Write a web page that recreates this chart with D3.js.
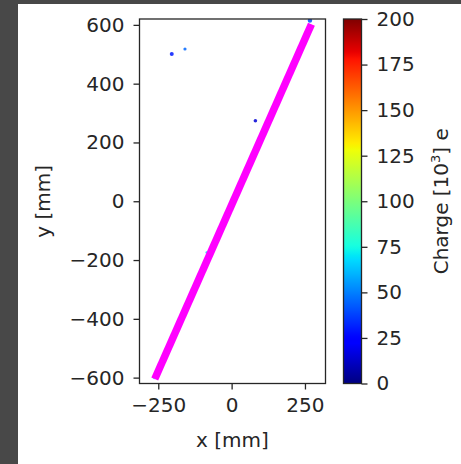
<!DOCTYPE html>
<html>
<head>
<meta charset="utf-8">
<script src="https://cdnjs.cloudflare.com/ajax/libs/d3/7.8.5/d3.min.js"></script>
<style>
  html, body { margin: 0; padding: 0; background: #484848; }
  svg { display: block; }
  text { font-family: "DejaVu Sans", sans-serif; fill: #262626; }
</style>
</head>
<body>
<div id="chart"></div>
<script>
// track fit (magenta) endpoints, mm
var trackX = [-262, 272];
var trackY = [-605, 602];

// hits lying on the track (shown as the thin cyan edge)
var hitTrackX = [-266, 268];
var hitTrackY = [-605, 602];
var hitTrackQ = 70;

// isolated hits: x, y in mm, charge in 10^3 e
var hitX = [-204, -159, 81, 267, -85];
var hitY = [501, 518, 274, 615, -174];
var hitQ = [30, 45, 15, 40, 70];
var hitR = [2, 1.6, 1.8, 2.2, 1.2];

var xTicks = [-250, 0, 250];
var yTicks = [-600, -400, -200, 0, 200, 400, 600];
var cTicks = [0, 25, 50, 75, 100, 125, 150, 175, 200];

var W = 461, H = 464;
var plot = {left: 139.5, right: 325.5, top: 19, bottom: 383.5};
var cbar = {left: 343.5, right: 361.5};
var fs = "20px";

var svg = d3.select("#chart").append("svg")
  .attr("width", W)
  .attr("height", H);

// white figure area
svg.append("rect")
  .attr("x", 18).attr("y", 4)
  .attr("width", W - 18).attr("height", H - 4)
  .attr("fill", "#ffffff");

var x = d3.scaleLinear().domain([-314, 320]).range([plot.left, plot.right]);
var y = d3.scaleLinear().domain([-620, 620]).range([plot.bottom, plot.top]);
var c = d3.scaleLinear().domain([0, 200]).range([plot.bottom, plot.top]);

// jet colormap
function jet(t) {
  t = Math.max(0, Math.min(1, t));
  function seg(pts) {
    for (var i = 1; i < pts.length; i++) {
      if (t <= pts[i][0]) {
        var a = pts[i - 1], b = pts[i];
        return a[1] + (b[1] - a[1]) * (t - a[0]) / (b[0] - a[0]);
      }
    }
    return pts[pts.length - 1][1];
  }
  var r = seg([[0, 0], [0.35, 0], [0.66, 1], [0.89, 1], [1, 0.5]]);
  var g = seg([[0, 0], [0.125, 0], [0.375, 1], [0.64, 1], [0.91, 0], [1, 0]]);
  var b = seg([[0, 0.5], [0.11, 1], [0.34, 1], [0.65, 0], [1, 0]]);
  return d3.rgb(r * 255, g * 255, b * 255).toString();
}
function qColor(q) { return jet(q / 200); }

svg.append("clipPath").attr("id", "clip")
  .append("rect")
  .attr("x", plot.left).attr("y", plot.top)
  .attr("width", plot.right - plot.left).attr("height", plot.bottom - plot.top);

var g = svg.append("g").attr("clip-path", "url(#clip)");

var line = d3.line()
  .x(function(d) { return x(d[0]); })
  .y(function(d) { return y(d[1]); });

// hits along the track
g.append("path")
  .datum(d3.zip(hitTrackX, hitTrackY))
  .attr("d", line)
  .attr("fill", "none")
  .attr("stroke", qColor(hitTrackQ))
  .attr("stroke-opacity", 0.6)
  .attr("stroke-width", 2);

// isolated hits
g.selectAll("circle.hit")
  .data(d3.range(hitX.length))
  .enter().append("circle")
  .attr("class", "hit")
  .attr("cx", function(i) { return x(hitX[i]); })
  .attr("cy", function(i) { return y(hitY[i]); })
  .attr("r", function(i) { return hitR[i]; })
  .attr("fill", function(i) { return qColor(hitQ[i]); })
  .attr("fill-opacity", 0.85);

// fitted track
g.append("path")
  .datum(d3.zip(trackX, trackY))
  .attr("d", line)
  .attr("fill", "none")
  .attr("stroke", "#ff00ff")
  .attr("stroke-width", 7.5);

// frame
svg.append("rect")
  .attr("x", plot.left).attr("y", plot.top)
  .attr("width", plot.right - plot.left).attr("height", plot.bottom - plot.top)
  .attr("fill", "none")
  .attr("stroke", "#262626")
  .attr("stroke-width", 1.3);

function minus(d) { return d3.format("d")(d).replace("-", "\u2212"); }

// axes
var xAxis = svg.append("g")
  .attr("transform", "translate(0," + plot.bottom + ")")
  .call(d3.axisBottom(x).tickValues(xTicks).tickSize(6).tickPadding(8).tickFormat(minus));
var yAxis = svg.append("g")
  .attr("transform", "translate(" + plot.left + ",0)")
  .call(d3.axisLeft(y).tickValues(yTicks).tickSize(6).tickPadding(9).tickFormat(minus));

// colorbar
var grad = svg.append("defs").append("linearGradient")
  .attr("id", "jet")
  .attr("x1", 0).attr("y1", 1).attr("x2", 0).attr("y2", 0);
grad.selectAll("stop")
  .data(d3.range(0, 1.0001, 0.01))
  .enter().append("stop")
  .attr("offset", function(t) { return t; })
  .attr("stop-color", function(t) { return jet(t); });

svg.append("rect")
  .attr("x", cbar.left).attr("y", plot.top)
  .attr("width", cbar.right - cbar.left).attr("height", plot.bottom - plot.top)
  .attr("fill", "url(#jet)")
  .attr("stroke", "#262626")
  .attr("stroke-width", 1.3);

var cAxis = svg.append("g")
  .attr("transform", "translate(" + cbar.right + ",0)")
  .call(d3.axisRight(c).tickValues(cTicks).tickSize(6).tickPadding(9));

[xAxis, yAxis, cAxis].forEach(function(a) {
  a.select(".domain").remove();
  a.selectAll("line").attr("stroke", "#262626").attr("stroke-width", 1.3);
  a.selectAll("text")
    .style("font-family", "DejaVu Sans, sans-serif")
    .style("font-size", fs)
    .attr("fill", "#262626");
});

svg.append("text")
  .attr("x", (plot.left + plot.right) / 2)
  .attr("y", 447)
  .style("text-anchor", "middle")
  .style("font-size", fs)
  .text("x [mm]");

svg.append("text")
  .attr("transform", "translate(50," + ((plot.top + plot.bottom) / 2) + ") rotate(-90)")
  .style("text-anchor", "middle")
  .style("font-size", fs)
  .text("y [mm]");

var cl = svg.append("text")
  .attr("transform", "translate(448," + ((plot.top + plot.bottom) / 2) + ") rotate(-90)")
  .style("text-anchor", "middle")
  .style("font-size", fs);
cl.append("tspan").text("Charge [10");
cl.append("tspan").attr("dy", -8).style("font-size", "13px").text("3");
cl.append("tspan").attr("dy", 8).text("] e");
</script>
</body>
</html>
